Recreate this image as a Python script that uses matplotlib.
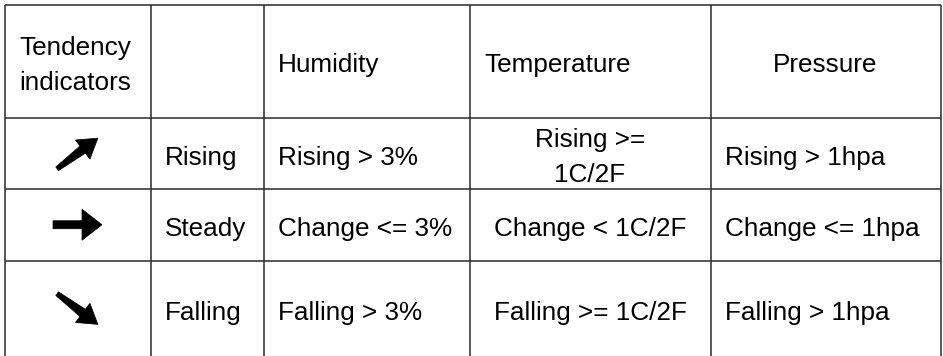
import numpy as np
import matplotlib
matplotlib.use("Agg")
import matplotlib.pyplot as plt
from matplotlib.patches import Polygon

# ---- table content ----
headers = ["Tendency\nindicators", "", "Humidity", "Temperature", "Pressure"]
tendencies = ["Rising", "Steady", "Falling"]
humidity = ["Rising > 3%", "Change <= 3%", "Falling > 3%"]
temperature = ["Rising >=\n1C/2F", "Change < 1C/2F", "Falling >= 1C/2F"]
pressure = ["Rising > 1hpa", "Change <= 1hpa", "Falling > 1hpa"]
arrow_angles = [37, 0, -37]   # direction of the tendency icon (degrees)

# ---- layout (pixels) ----
W, H = 943, 356
col_x = [4.5, 150.5, 263.5, 469.5, 710.5, 940.5]
row_y = [4.5, 118, 189, 260.5, 357.5]
header_align = ["left", "left", "left", "left", "center"]
body_align = ["left", "left", "left", "center", "left"]
pad = 14.5
fs = 18.8
pitch = 35.0
base_off = 11.0
line_color = "#2a2a2a"
font = ["Liberation Sans", "DejaVu Sans"]

fig = plt.figure(figsize=(W / 100, H / 100), dpi=100)
ax = fig.add_axes([0, 0, 1, 1])
ax.set_xlim(0, W)
ax.set_ylim(H, 0)
ax.axis("off")

# grid
for y in row_y:
    ax.plot([col_x[0], col_x[-1]], [y, y], color=line_color, lw=1.1,
            solid_capstyle="butt")
for x in col_x:
    ax.plot([x, x], [row_y[0], row_y[-1]], color=line_color, lw=1.1,
            solid_capstyle="butt")


def cell_text(txt, c, r, align):
    if not txt:
        return
    lines = txt.split("\n")
    cy = (row_y[r] + row_y[r + 1]) / 2
    n = len(lines)
    if align == "left":
        x = col_x[c] + pad
    else:
        x = (col_x[c] + col_x[c + 1]) / 2
    for i, ln in enumerate(lines):
        y = cy + base_off + (i - (n - 1) / 2) * pitch
        ax.text(x, y, ln, ha=align, va="baseline", fontsize=fs,
                family=font, color="black")


def arrow(cx, cy, angle, straight):
    if straight:
        L, w0, w1, hw, hl = 49, 8, 8, 31, 20
    else:
        L, w0, w1, hw, hl = 51, 4.5, 9, 24, 19
    x0 = -L / 2
    xh = L / 2 - hl
    pts = np.array([
        [x0, -w0 / 2], [xh, -w1 / 2], [xh, -hw / 2], [L / 2, 0],
        [xh, hw / 2], [xh, w1 / 2], [x0, w0 / 2]
    ])
    a = np.deg2rad(angle)
    R = np.array([[np.cos(a), -np.sin(a)], [np.sin(a), np.cos(a)]])
    p = pts @ R.T
    p[:, 1] = -p[:, 1]  # y axis points down
    p[:, 0] += cx
    p[:, 1] += cy
    ax.add_patch(Polygon(p, closed=True, facecolor="black", edgecolor="black",
                         lw=0.5))


for c, h in enumerate(headers):
    cell_text(h, c, 0, header_align[c])

cols = [None, tendencies, humidity, temperature, pressure]
for r in range(3):
    cx = (col_x[0] + col_x[1]) / 2
    cy = (row_y[r + 1] + row_y[r + 2]) / 2
    arrow(cx, cy, arrow_angles[r], arrow_angles[r] == 0)
    for c in range(1, 5):
        cell_text(cols[c][r], c, r + 1, body_align[c])

fig.savefig("out.png", dpi=100, facecolor="white")
